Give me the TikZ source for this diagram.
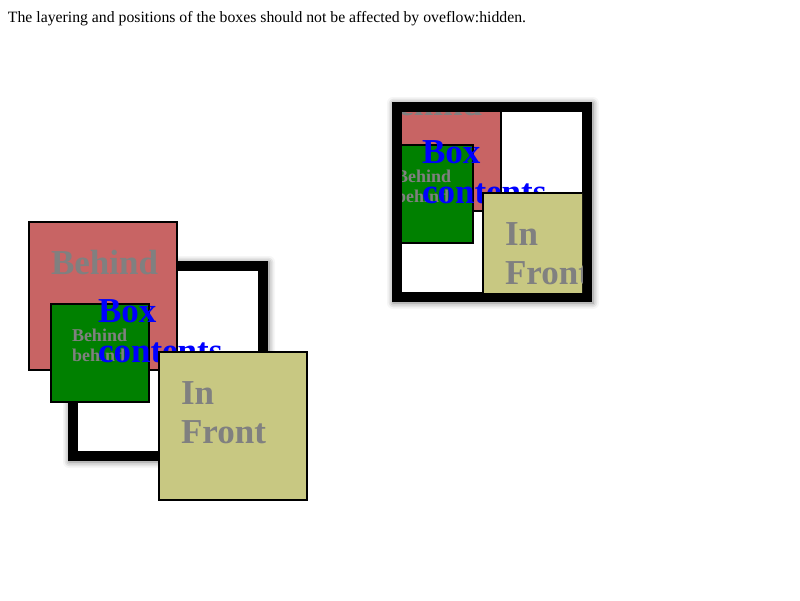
\documentclass[tikz,border=0pt]{standalone}
\usepackage{fontspec}
\setmainfont{Liberation Serif}
\usetikzlibrary{shadows.blur}
\definecolor{boxred}{RGB}{200,100,100}
\definecolor{boxyellow}{RGB}{200,200,130}
\definecolor{boxgreen}{RGB}{0,128,0}
\definecolor{boxgray}{RGB}{128,128,128}
\definecolor{boxblue}{RGB}{0,0,255}
\tikzset{
  sq/.style={draw=black, line width=2pt, inner sep=0pt, outer sep=0pt},
  bigsq/.style={sq, minimum width=148pt, minimum height=148pt},
  smallsq/.style={sq, minimum width=98pt, minimum height=98pt},
  redsq/.style={bigsq, fill=boxred},
  yellowsq/.style={bigsq, fill=boxyellow},
  greensq/.style={smallsq, fill=boxgreen},
  frameout/.style={fill=black, inner sep=0pt, outer sep=0pt, minimum width=200pt, minimum height=200pt,
    blur shadow={shadow xshift=1pt, shadow yshift=-1pt, shadow blur radius=6pt, shadow opacity=55}},
  framein/.style={fill=white, inner sep=0pt, outer sep=0pt, minimum width=180pt, minimum height=180pt},
  txt/.style={anchor=base west, inner sep=0pt, outer sep=0pt},
  bigtxt/.style={txt, font=\fontsize{35}{40}\selectfont\bfseries, text=boxgray},
  smalltxt/.style={txt, font=\fontsize{18}{21}\selectfont\bfseries, text=boxgray},
  bluetxt/.style={txt, font=\fontsize{35}{40}\selectfont\bfseries, text=boxblue},
  headtxt/.style={txt, font=\fontsize{15.75}{19}\selectfont, text=black}
}
\begin{document}
\begin{tikzpicture}[x=1pt,y=-1pt]
\useasboundingbox (0,0) rectangle (800,600);
\node[headtxt] (head) at (8,22) {The layering and positions of the boxes should not be affected by oveflow:hidden.};

% ---------- left group ----------
\node[frameout] (lframe) at (168,361) {};
\node[framein] (lframein) at (168,361) {};
\node[redsq] (lred) at (103,296) {};
\node[bigtxt] (lredtxt) at (51,274) {Behind};
\node[greensq] (lgreen) at (100,353) {};
\node[smalltxt] (lgreentxta) at (72,341) {Behind};
\node[smalltxt] (lgreentxtb) at (72,361.5) {behind};
\node[bluetxt] (lbluea) at (98,322.5) {Box};
\node[bluetxt] (lblueb) at (98,362.5) {contents};
\node[yellowsq] (lyellow) at (233,426) {};
\node[bigtxt] (lyeltxta) at (181,404) {In};
\node[bigtxt] (lyeltxtb) at (181,443) {Front};

% ---------- right group (overflow hidden) ----------
\node[frameout] (rframe) at (492,202) {};
\node[framein] (rframein) at (492,202) {};
\begin{scope}
\clip (402,112) rectangle (582,292);
\node[redsq] (rred) at (427,137) {};
\node[bigtxt] (rredtxt) at (375,115) {Behind};
\node[greensq] (rgreen) at (424,194) {};
\node[smalltxt] (rgreentxta) at (396,182) {Behind};
\node[smalltxt] (rgreentxtb) at (396,202.5) {behind};
\node[bluetxt] (rbluea) at (422,163.5) {Box};
\node[bluetxt] (rblueb) at (422,203.5) {contents};
\node[yellowsq] (ryellow) at (557,267) {};
\node[bigtxt] (ryeltxta) at (505,245) {In};
\node[bigtxt] (ryeltxtb) at (505,284) {Front};
\end{scope}
\end{tikzpicture}
\end{document}
